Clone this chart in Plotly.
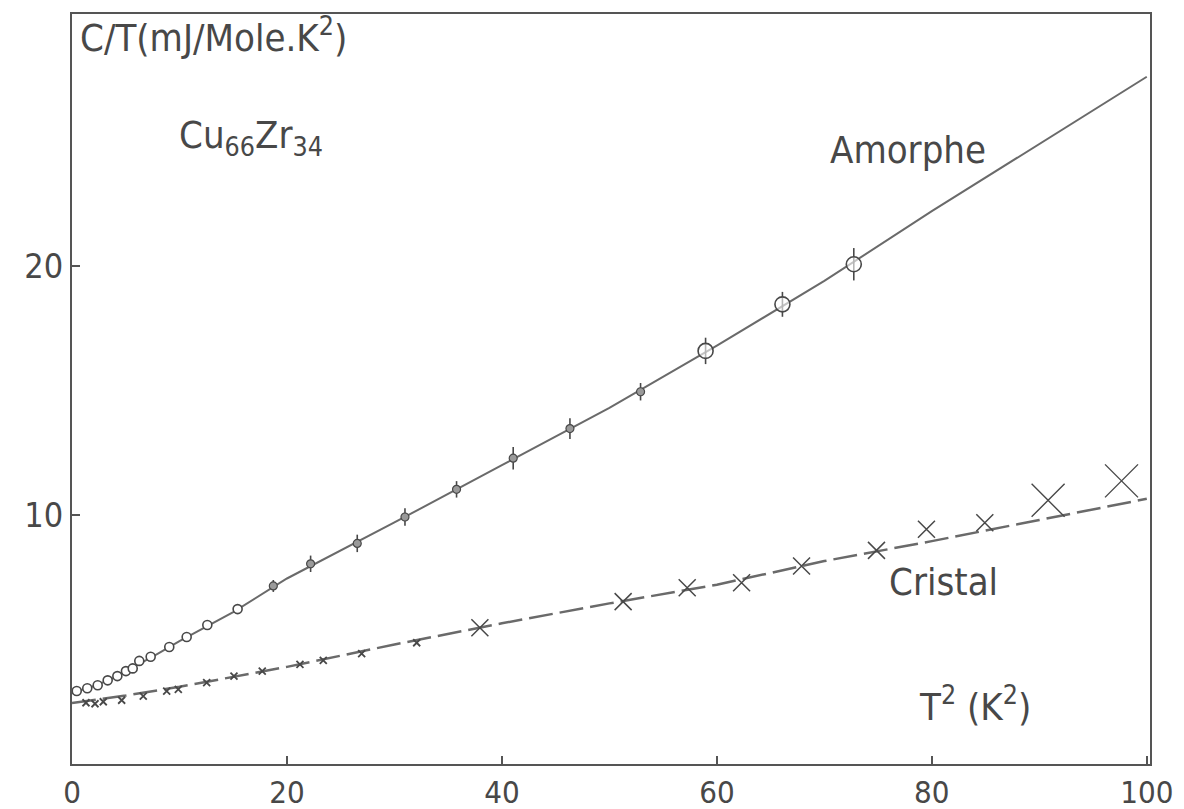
import plotly.graph_objects as go

# ---------------- data ----------------
# Amorphe: low-T open circles
amo_low_x = [0.44, 1.42, 2.39, 3.32, 4.22, 5.02, 5.65, 6.26, 7.32, 9.05, 10.67, 12.59, 15.41]
amo_low_y = [2.93, 3.04, 3.16, 3.36, 3.53, 3.73, 3.84, 4.14, 4.31, 4.70, 5.10, 5.58, 6.22]
# Amorphe: mid points (small filled) with error bars
amo_mid_x = [18.73, 22.2, 26.54, 30.98, 35.78, 41.05, 46.33, 52.9]
amo_mid_y = [7.15, 8.04, 8.86, 9.92, 11.03, 12.28, 13.47, 14.95]
amo_mid_err = [0.24, 0.33, 0.35, 0.35, 0.33, 0.45, 0.42, 0.35]
# Amorphe: high points (large open circles) with error bars
amo_high_x = [58.95, 66.1, 72.74]
amo_high_y = [16.59, 18.46, 20.07]
amo_high_err = [0.53, 0.5, 0.65]
# Amorphe fitted curve
amo_fit_x = [0, 2, 4, 6, 8, 10, 15, 20, 30, 40, 50, 60, 70, 80, 90, 100]
amo_fit_y = [2.86, 3.12, 3.48, 3.95, 4.43, 4.93, 6.1, 7.45, 9.7, 12.0, 14.3, 16.8, 19.4, 22.2, 24.9, 27.6]

# Cristal: low-T small marks
cri_small_x = [1.30, 2.14, 2.91, 4.62, 6.63, 8.81, 9.89, 12.53, 15.07, 17.70, 21.21, 23.38, 26.95, 32.07]
cri_small_y = [2.46, 2.42, 2.50, 2.56, 2.73, 2.93, 3.00, 3.27, 3.53, 3.73, 4.00, 4.16, 4.43, 4.87]
# Cristal: medium crosses
cri_mid_x = [37.95, 51.28, 57.24, 62.3, 67.88, 74.85, 79.5, 84.93]
cri_mid_y = [5.47, 6.52, 7.08, 7.28, 7.95, 8.58, 9.43, 9.69]
# Cristal: large crosses
cri_big_x = [90.82, 97.65]
cri_big_y = [10.59, 11.37]
# Cristal fitted line
cri_fit_x = [0, 5, 10, 15, 20, 30, 40, 50, 60, 70, 80, 90, 100]
cri_fit_y = [2.45, 2.75, 3.1, 3.5, 3.9, 4.8, 5.65, 6.45, 7.2, 8.15, 8.95, 9.8, 10.65]

x_ticks = [0, 20, 40, 60, 80, 100]
y_ticks = [10, 20]

# ---------------- styling ----------------
FONT = "DejaVu Sans Condensed, DejaVu Sans, sans-serif"
INK = "#484848"
LINE = "#6a6a6a"

fig = go.Figure()

fig.add_trace(go.Scatter(x=amo_fit_x, y=amo_fit_y, mode="lines",
                         line=dict(color=LINE, width=2), hoverinfo="skip"))
fig.add_trace(go.Scatter(x=cri_fit_x, y=cri_fit_y, mode="lines",
                         line=dict(color=LINE, width=2.5, dash="24px,7px"), hoverinfo="skip"))

fig.add_trace(go.Scatter(x=amo_low_x, y=amo_low_y, mode="markers",
                         marker=dict(symbol="circle", size=9, color="white",
                                     line=dict(color=INK, width=1.6))))
fig.add_trace(go.Scatter(x=amo_mid_x, y=amo_mid_y, mode="markers",
                         error_y=dict(type="data", array=amo_mid_err, color=INK,
                                      thickness=1.6, width=0),
                         marker=dict(symbol="circle", size=8, color="#9a9a9a",
                                     line=dict(color=INK, width=1.2))))
fig.add_trace(go.Scatter(x=amo_high_x, y=amo_high_y, mode="markers",
                         error_y=dict(type="data", array=amo_high_err, color=INK,
                                      thickness=1.6, width=0),
                         marker=dict(symbol="circle", size=15, color="rgba(255,255,255,0.6)",
                                     line=dict(color=INK, width=1.6))))

fig.add_trace(go.Scatter(x=cri_small_x, y=cri_small_y, mode="markers",
                         marker=dict(symbol="x-thin-open", size=7, color=INK,
                                     line=dict(color=INK, width=1.8))))
fig.add_trace(go.Scatter(x=cri_mid_x, y=cri_mid_y, mode="markers",
                         marker=dict(symbol="x-thin-open", size=17, color=INK,
                                     line=dict(color=INK, width=1.5))))
fig.add_trace(go.Scatter(x=cri_big_x, y=cri_big_y, mode="markers",
                         marker=dict(symbol="x-thin-open", size=33, color=INK,
                                     line=dict(color=INK, width=1.4))))

txt = dict(family=FONT, size=38, color=INK)
fig.add_annotation(x=0.0055, y=0.972, xref="paper", yref="paper", text="C/T(mJ/Mole.K<sup>2</sup>)",
                   showarrow=False, xanchor="left", yanchor="middle", font=txt)
fig.add_annotation(x=9.75, y=25.16, xref="x", yref="y", text="Cu<sub>66</sub>Zr<sub>34</sub>",
                   showarrow=False, xanchor="left", yanchor="middle", font=txt)
fig.add_annotation(x=70.3, y=24.67, xref="x", yref="y", text="Amorphe",
                   showarrow=False, xanchor="left", yanchor="middle", font=txt)
fig.add_annotation(x=75.8, y=7.29, xref="x", yref="y", text="Cristal",
                   showarrow=False, xanchor="left", yanchor="middle", font=txt)
fig.add_annotation(x=78.6, y=2.39, xref="x", yref="y", text="T<sup>2</sup> (K<sup>2</sup>)",
                   showarrow=False, xanchor="left", yanchor="middle", font=txt)

axis_common = dict(showgrid=False, zeroline=False, showline=True, linecolor="#555",
                   linewidth=2, mirror=True, ticks="inside", ticklen=8, tickwidth=1.5,
                   tickcolor="#555", automargin=False)
fig.update_xaxes(range=[0, 100.3], tickvals=x_ticks, ticktext=[str(v) for v in x_ticks],
                 tickfont=dict(family=FONT, size=31, color=INK), ticklabelstandoff=0,
                 **axis_common)
fig.update_yaxes(range=[0, 30.12], tickvals=y_ticks, ticktext=[str(v) for v in y_ticks],
                 tickfont=dict(family=FONT, size=34, color=INK), ticklabelstandoff=0,
                 **axis_common)

fig.update_layout(width=1176, height=801, showlegend=False,
                  paper_bgcolor="white", plot_bgcolor="white",
                  margin=dict(l=64, r=34, t=6, b=45))

fig.write_html("out.html")
